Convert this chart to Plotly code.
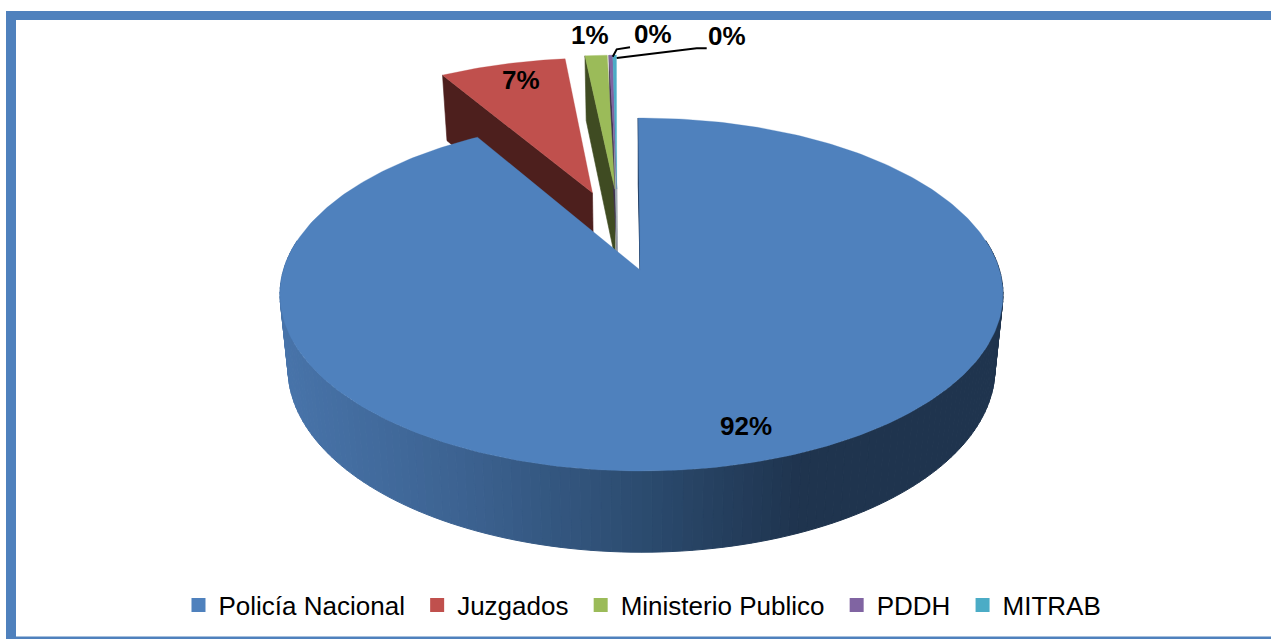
import numpy as np
import plotly.graph_objects as go

# ---- data ----
categories = ["Policía Nacional", "Juzgados", "Ministerio Publico", "PDDH", "MITRAB"]
shares = [91.6, 6.8, 1.2, 0.2, 0.2]
colors = ["#4F81BD", "#C0504D", "#9BBB59", "#8064A2", "#4BACC6"]
side_colors = ["#1F3A5F", "#4D1F1D", "#3F4B22", "#3F3151", "#A9B8BE"]

# ---- projection of the tilted disc onto the page ----
CX, TOP_Y, BOT_Y = 641.5, 270.0, 343.2
TOP_W, TOP_H = 358.0, 173.1
BOT_W, BOT_H = 350.0, 180.0
K = 0.1388
ROTATION = -0.6
offsets = [(0.0, 0.0), (-0.146, 0.475), (-0.08, 0.5), (-0.074, 0.5), (-0.074, 0.5)]
APEX = (-0.004, 0.0)


def top(u, v):
    d = 1 + K * v
    return CX + TOP_W * u / d, TOP_Y - TOP_H * v / d


def bottom(u, v):
    d = 1 + K * v
    return CX + BOT_W * u / d, BOT_Y - BOT_H * v / d


def rim(deg, off):
    t = np.radians(deg)
    return off[0] + np.sin(t), off[1] + np.cos(t)


def poly(x, y, color, width=0.6):
    return go.Scatter(x=list(x), y=list(y), mode="lines", fill="toself", fillcolor=color,
                      line=dict(color=color, width=width), hoverinfo="skip", showlegend=False)


def wall_color(x):
    xs = [285, 470, 640, 800, 1000]
    r = np.interp(x, xs, [72, 60, 44, 31, 31])
    g = np.interp(x, xs, [116, 98, 76, 52, 52])
    b = np.interp(x, xs, [170, 144, 112, 78, 78])
    return f"rgb({int(r)},{int(g)},{int(b)})"


edges = ROTATION + np.concatenate([[0], np.cumsum(shares)]) * 3.6
traces = []

# exploded small slices: cut face first, then the top surface
for i in range(1, len(shares)):
    a0, a1 = edges[i], edges[i + 1]
    off = offsets[i]
    u, v = rim(a0, off)
    x0, y0 = top(*off)
    x1, y1 = top(u, v)
    x2, y2 = bottom(u, v)
    x3, y3 = bottom(*off)
    traces.append(poly([x0, x1, x2, x3, x0], [y0, y1, y2, y3, y0], side_colors[i]))
for i in range(1, len(shares)):
    a0, a1 = edges[i], edges[i + 1]
    off = offsets[i]
    aa = np.linspace(a0, a1, 30)
    u, v = rim(aa, off)
    xs, ys = top(u, v)
    ox, oy = top(*off)
    traces.append(poly(np.r_[ox, xs, ox], np.r_[oy, ys, oy], colors[i], 0.3))

# main slice: shaded outer wall in strips, cut face, top surface
a0, a1 = edges[0], edges[1]
for s0, s1 in zip(np.linspace(80, 280, 141)[:-1], np.linspace(80, 280, 141)[1:]):
    aa = np.array([s0, s1])
    u, v = rim(aa, offsets[0])
    xt, yt = top(u, v)
    xb, yb = bottom(u, v)
    c = wall_color(float(np.mean(np.r_[xt, xb])))
    traces.append(poly([xt[0], xt[1], xb[1], xb[0], xt[0]], [yt[0], yt[1], yb[1], yb[0], yt[0]], c, 1))

u, v = rim(a0, offsets[0])
ox, oy = top(*APEX)
fx = [ox, top(u, v)[0], bottom(u, v)[0], bottom(*APEX)[0]]
fy = [oy, top(u, v)[1], bottom(u, v)[1], oy]
traces.append(poly(fx, fy, side_colors[0], 1))

aa = np.linspace(a0, a1, 360)
u, v = rim(aa, offsets[0])
xs, ys = top(u, v)
traces.append(poly(np.r_[ox, xs, ox], np.r_[oy, ys, oy], colors[0], 0.3))

# leader lines
traces.append(go.Scatter(x=[612.7, 616.7, 630], y=[56.7, 49.3, 47.3], mode="lines",
                         line=dict(color="#000000", width=2), hoverinfo="skip", showlegend=False))
traces.append(go.Scatter(x=[616.7, 696.7, 706.7], y=[58, 48.3, 48.3], mode="lines",
                         line=dict(color="#000000", width=2), hoverinfo="skip", showlegend=False))

# legend entries (trailing no-break space widens the gap between entries)
for i, (name, col) in enumerate(zip(categories, colors)):
    pad = "\u00a0" if i < len(categories) - 1 else ""
    traces.append(go.Scatter(x=[None], y=[None], mode="markers", name=name + pad,
                             marker=dict(symbol="square", size=14, color=col)))

fig = go.Figure(traces)

label_pos = [(746, 426), (521, 80), (590, 35), (653, 34), (727, 36)]
for val, (lx, ly) in zip(shares, label_pos):
    fig.add_annotation(x=lx, y=ly, text=f"{round(val)}%", showarrow=False,
                       font=dict(family="Liberation Sans", size=26, color="#000000", weight="bold"))

frame = "#4F81BD"
shapes = [
    dict(type="rect", x0=6, x1=16, y0=11, y1=639, fillcolor=frame, line_width=0, layer="below"),
    dict(type="rect", x0=6, x1=1271, y0=11, y1=20, fillcolor=frame, line_width=0, layer="below"),
    dict(type="rect", x0=6, x1=1271, y0=636.5, y1=639, fillcolor=frame, line_width=0, layer="below"),
]

fig.update_layout(
    width=1271, height=639, autosize=False,
    margin=dict(l=0, r=0, t=0, b=0),
    paper_bgcolor="#FFFFFF", plot_bgcolor="#FFFFFF",
    xaxis=dict(range=[0, 1271], visible=False, fixedrange=True),
    yaxis=dict(range=[639, 0], visible=False, fixedrange=True),
    shapes=shapes,
    showlegend=True,
    legend=dict(orientation="h", x=0.5055, xanchor="center", y=0.0531, yanchor="middle",
                bgcolor="rgba(0,0,0,0)", font=dict(family="Liberation Sans", size=26, color="#000000")),
)

fig.write_html("out.html", config={"displayModeBar": False},
               post_script="document.body.style.margin='0';document.documentElement.style.overflow='hidden';")
